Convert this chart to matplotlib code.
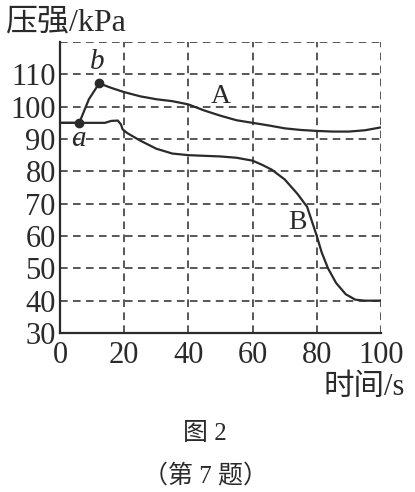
import matplotlib
matplotlib.use('Agg')
import matplotlib.pyplot as plt

# curve A
a_t = [0, 6, 9, 12.2, 16, 20, 25, 30, 35, 40, 45, 50, 55, 60, 65, 70, 75, 80, 85, 90, 95, 100]
a_p = [95, 95, 102.3, 107.2, 105.8, 104.5, 103.2, 102.3, 101.7, 100.7, 98.8, 97.2, 95.8, 95,
       94.2, 93.3, 92.8, 92.5, 92.3, 92.3, 92.7, 93.6]

# curve B
b_t = [0, 14, 16, 18, 19, 19.5, 21, 25, 30, 35, 40, 45, 50, 55, 60, 63, 66, 70, 74, 77,
       79, 80, 81.5, 83.5, 86, 89, 92, 95, 100]
b_p = [95, 95, 95.6, 95.7, 94.5, 93, 91.8, 89.5, 87, 85.5, 85, 84.8, 84.6, 84.2, 83.3, 82,
       80.5, 77.5, 73, 69, 63, 60, 55, 50, 45.5, 42, 40.3, 40, 40]

# marked points a, b
pt_t = [6, 12.2]
pt_p = [95, 107.2]

xticks = [0, 20, 40, 60, 80, 100]
yticks = [30, 40, 50, 60, 70, 80, 90, 100, 110]

serif = ['Liberation Serif', 'Noto Sans CJK SC']
ink = '#2a2a2a'

fig = plt.figure(figsize=(4.15, 4.92), dpi=100)
ax = fig.add_axes([0.1446, 0.3232, 0.918 - 0.1446, 0.9146 - 0.3232])
ax.set_xlim(0, 100)
ax.set_ylim(30, 120)

dash = (0, (5, 3.5))
for x in xticks[1:]:
    ax.axvline(x, color=ink, lw=1.1, ls=dash, zorder=1)
for y in yticks[1:] + [120]:
    ax.axhline(y, color=ink, lw=1.1, ls=dash, zorder=1)

ax.plot(a_t, a_p, color=ink, lw=1.6, zorder=3)
ax.plot(b_t, b_p, color=ink, lw=1.6, zorder=3)
ax.plot(pt_t, pt_p, 'o', color=ink, ms=6, zorder=4)

for s in ['top', 'right']:
    ax.spines[s].set_visible(False)
for s in ['left', 'bottom']:
    ax.spines[s].set_linewidth(1.6)
    ax.spines[s].set_color(ink)

ax.set_xticks(xticks)
ax.set_yticks(yticks)
ax.tick_params(length=0, labelsize=22, colors=ink)
ax.tick_params(axis='x', pad=6)
ax.tick_params(axis='y', pad=3)
for lab in ax.get_xticklabels() + ax.get_yticklabels():
    lab.set_family(serif)

ax.text(50, 103, 'A', fontsize=20, family=serif, color=ink, ha='center', va='center')
ax.text(74, 64.3, 'B', fontsize=20, family=serif, color=ink, ha='center', va='center')
ax.text(5.6, 90.0, 'a', fontsize=21, family=serif, style='italic', color=ink,
        ha='center', va='center')
ax.text(11.5, 113.7, 'b', fontsize=21, family=serif, style='italic', color=ink,
        ha='center', va='center')

fig.text(0.012, 0.953, '压强/kPa', fontsize=23, family=serif, color=ink, ha='left', va='center')
fig.text(0.975, 0.213, '时间/s', fontsize=22, family=serif, color=ink, ha='right', va='center')
fig.text(0.494, 0.118, '图 2', fontsize=18, family=serif, color=ink, ha='center', va='center')
fig.text(0.494, 0.034, '（第 7 题）', fontsize=18, family=serif, color=ink, ha='center', va='center')

fig.savefig('out.png', dpi=100)
